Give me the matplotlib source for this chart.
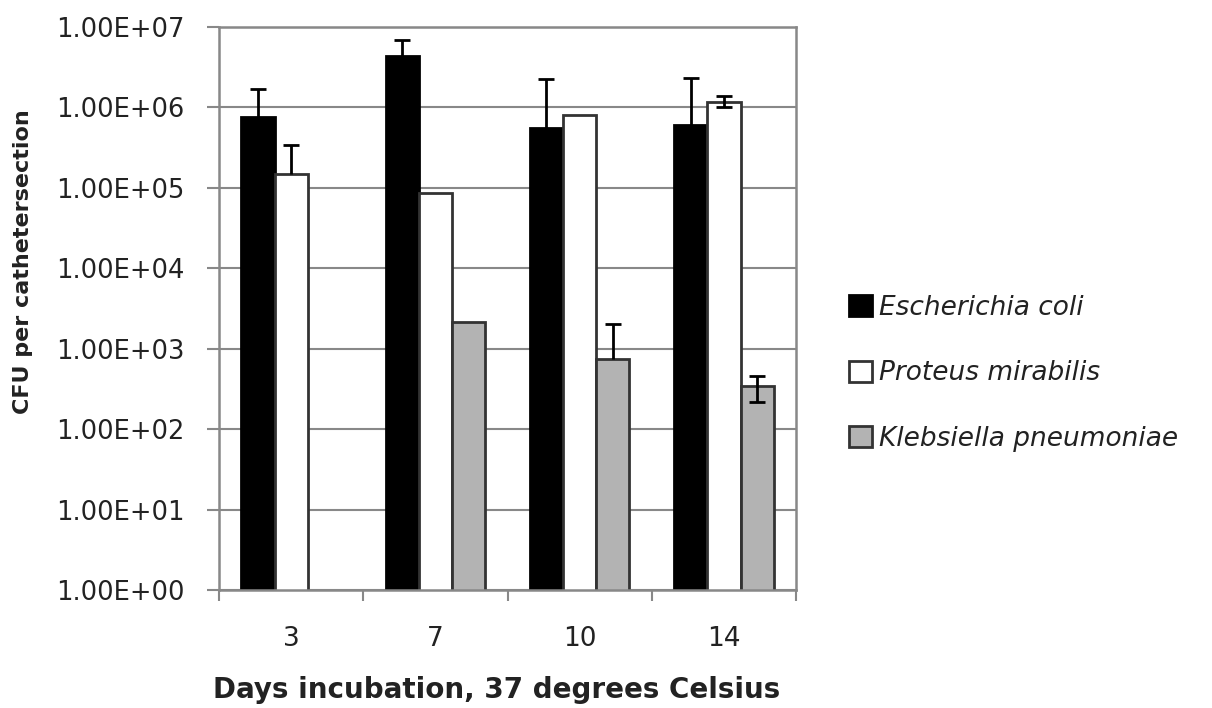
import numpy as np
import matplotlib.pyplot as plt
from matplotlib.ticker import FixedLocator, NullLocator

plt.rcParams['font.family'] = ['DejaVu Sans']

days = ['3', '7', '10', '14']
species = ['Escherichia coli', 'Proteus mirabilis', 'Klebsiella pneumoniae']

ecoli = [7.5e5, 4.4e6, 5.6e5, 6.0e5]
ecoli_err_hi = [9.5e5, 2.4e6, 1.7e6, 1.7e6]
ecoli_err_lo = [0, 0, 0, 0]

proteus = [1.47e5, 8.7e4, 8.0e5, 1.17e6]
proteus_err_hi = [1.9e5, 0, 0, 2.0e5]
proteus_err_lo = [0, 0, 0, 1.7e5]

kleb = [np.nan, 2.15e3, 7.4e2, 3.4e2]
kleb_err_hi = [0, 0, 1.26e3, 1.2e2]
kleb_err_lo = [0, 0, 0, 1.2e2]

fig = plt.figure(figsize=(12.12, 7.08), dpi=100)
ax = fig.add_axes([0.1807, 0.1667, 0.4761, 0.7953])

x = np.arange(len(days))
w = 0.23
series = [
    (ecoli, ecoli_err_lo, ecoli_err_hi, 'black', 'black'),
    (proteus, proteus_err_lo, proteus_err_hi, 'white', '#333333'),
    (kleb, kleb_err_lo, kleb_err_hi, '#b3b3b3', '#333333'),
]
handles = []
for i, (vals, lo, hi, fc, ec) in enumerate(series):
    pos = x + (i - 1) * w
    b = ax.bar(pos, vals, width=w, color=fc, edgecolor=ec, linewidth=2, zorder=2)
    handles.append(b)
    vals, lo, hi = np.array(vals), np.array(lo), np.array(hi)
    # upper-only error bars (no lower cap), then two-sided ones
    up = (hi > 0) & (lo == 0)
    both = lo > 0
    if up.any():
        _, caps, _ = ax.errorbar(pos[up], vals[up], yerr=[lo[up], hi[up]], fmt='none',
                                 ecolor='black', elinewidth=2, capsize=6, capthick=2, zorder=3)
        caps[0].set_visible(False)
    if both.any():
        ax.errorbar(pos[both], vals[both], yerr=[lo[both], hi[both]], fmt='none',
                    ecolor='black', elinewidth=2, capsize=6, capthick=2, zorder=3)

ax.set_yscale('log')
ax.set_ylim(1, 1e7)
ax.set_xlim(-0.5, 3.5)
ax.yaxis.set_major_locator(FixedLocator([10.0 ** k for k in range(8)]))
ax.yaxis.set_minor_locator(NullLocator())
ax.set_yticklabels(['1.00E+%02d' % k for k in range(8)])
ax.grid(axis='y', color='#888888', linewidth=1.5, zorder=0)
ax.set_axisbelow(True)

ax.set_xticks(x)
ax.set_xticklabels(days)
ax.set_xticks(np.arange(-0.5, 4, 1), minor=True)
ax.tick_params(axis='x', which='major', length=0, pad=26, labelsize=19, labelcolor='#222222')
ax.tick_params(axis='x', which='minor', length=8, width=1.5, color='#888888')
ax.tick_params(axis='y', which='major', length=9, width=1.5, color='#888888',
               labelsize=18.5, labelcolor='#222222', pad=16)

for s in ax.spines.values():
    s.set_color('#888888')
    s.set_linewidth(1.8)

ax.set_ylabel('CFU per cathetersection', fontsize=16, fontweight='bold', color='#222222')
ax.yaxis.set_label_coords(-0.322, 0.584)
ax.set_xlabel('Days incubation, 37 degrees Celsius', fontsize=20, fontweight='bold', color='#222222')
ax.xaxis.set_label_coords(0.481, -0.152)

leg = fig.legend([h[0] for h in handles], species, loc='upper left',
                 bbox_to_anchor=(0.681, 0.617), frameon=False,
                 handlelength=0.85, handleheight=0.85, handletextpad=0.3,
                 labelspacing=1.5, prop={'size': 19, 'style': 'italic'})
for t in leg.get_texts():
    t.set_color('#222222')

fig.savefig('out.png', dpi=100)
